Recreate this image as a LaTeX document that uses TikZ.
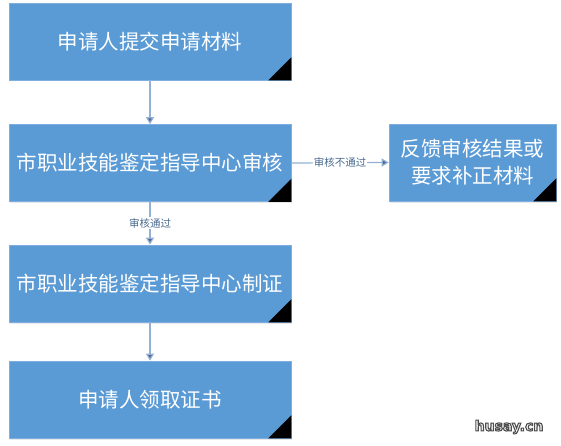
\documentclass[tikz,border=0pt]{standalone}
\usepackage{fontspec}
\newfontfamily\cjk{Noto Sans CJK SC}
\newfontfamily\wmf{DejaVu Sans}
\usetikzlibrary{arrows.meta,shadows}
\definecolor{boxblue}{HTML}{5B9BD5}
\definecolor{boxedge}{HTML}{7FAFE0}
\definecolor{arrowc}{HTML}{93B1D4}
\definecolor{labelc}{HTML}{4A6B8F}
\newcommand{\outlinetext}[1]{\special{pdf:literal direct 2 Tr 1.1 w 0.3 G}#1\special{pdf:literal direct 0 Tr}}
\begin{document}
\begin{tikzpicture}[x=1pt,y=-1pt,
  stepbox/.style={draw=boxedge,line width=0.6pt,fill=boxblue,text=white,inner sep=0pt,
    minimum width=282pt,minimum height=77pt,font=\cjk\fontsize{20.5}{27}\selectfont,align=center,
    drop shadow={opacity=0.18,shadow xshift=1.2pt,shadow yshift=-1.5pt}},
  corner/.style={fill=black},
  conn/.style={draw=arrowc,line width=1.2pt,-{Triangle[width=8pt,length=7pt,fill=arrowc!80!blue!70!black]}},
  lbl/.style={fill=white,text=labelc,inner sep=1pt,font=\cjk\fontsize{10.5}{12}\selectfont},
  wmfont/.style={font=\wmf\bfseries\fontsize{14}{14}\selectfont,inner sep=0pt}]
\useasboundingbox (0,0) rectangle (561,446);
\fill[white] (0,0) rectangle (561,446);
\node[stepbox] (b1) at (150,41.5) {申请人提交申请材料};
\node[stepbox] (b2) at (150,163) {市职业技能鉴定指导中心审核};
\node[stepbox] (b3) at (150,283.5) {市职业技能鉴定指导中心制证};
\node[stepbox] (b4) at (150,399.5) {申请人领取证书};
\node[stepbox,minimum width=167pt] (b5) at (472.5,162.5) {反馈审核结果或\\要求补正材料};
\foreach \b in {b1,b2,b3,b4,b5}{
  \fill[corner] (\b.south east) -- ++(-23,0) -- ++(23,-23) -- cycle;
}
\draw[conn] (b1.south) -- (b2.north);
\draw[conn] (b2.south) -- (b3.north) node[lbl,pos=0.5] {审核通过};
\draw[conn] (b3.south) -- (b4.north);
\draw[conn] (b2.east) -- (b5.west) node[lbl,pos=0.5] {审核不通过};
\node[wmfont,text=white] (wm) at (509,427) {\outlinetext{husay.cn}};
\end{tikzpicture}
\end{document}
